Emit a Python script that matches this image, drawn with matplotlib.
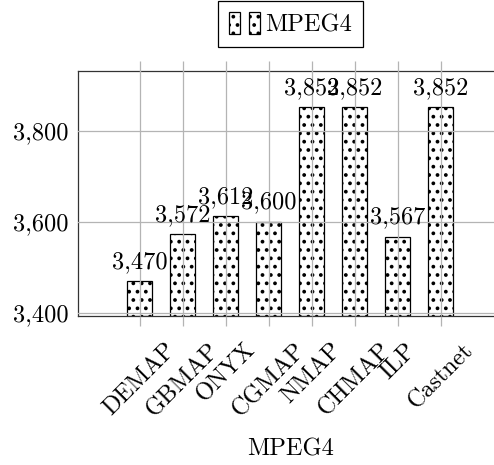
import matplotlib.pyplot as plt
from matplotlib.legend_handler import HandlerTuple
from matplotlib.patches import Rectangle
from matplotlib.ticker import FuncFormatter

methods = ['DEMAP', 'GBMAP', 'ONYX', 'CGMAP', 'NMAP', 'CHMAP', 'ILP', 'Castnet']
mpeg4 = [3470, 3572, 3612, 3600, 3852, 3852, 3567, 3852]
yticks = [3400, 3600, 3800]

plt.rcParams['font.family'] = 'serif'
plt.rcParams['font.serif'] = ['cmr10', 'DejaVu Serif']
plt.rcParams['axes.formatter.use_mathtext'] = True
plt.rcParams['hatch.linewidth'] = 1.5
plt.rcParams['hatch.color'] = 'black'

fs = 17.5
grid_col = '#b4b4b4'

fig = plt.figure(figsize=(4.94, 4.65), dpi=100)
ax = fig.add_axes([0.158, 0.3204, 0.86, 0.527])

ymin = 3392.7
x = list(range(len(methods)))
heights = [v - ymin for v in mpeg4]
bars = ax.bar(x, heights, bottom=ymin, width=0.58, color='white',
              edgecolor='black', linewidth=0.9, hatch='..', zorder=1)

for xi, v in zip(x, mpeg4):
    ax.annotate(f'{v:,}', (xi, v), xytext=(0, 9.4), textcoords='offset points',
                ha='center', va='baseline', fontsize=fs, zorder=4)

ax.set_xlim(-1.43, 8.44)
ax.set_ylim(ymin, 3931)
ax.set_yticks(yticks)
ax.yaxis.set_major_formatter(FuncFormatter(lambda v, p: f'{int(v):,}'))
ax.set_xticks(x)
ax.set_xticklabels(methods, rotation=45, ha='center', va='top')

ax.set_axisbelow(False)
ax.grid(True, color=grid_col, linewidth=0.9)
ax.tick_params(axis='x', top=True, bottom=True, direction='out', length=7.5,
               color=grid_col, width=0.9, labelsize=fs, pad=9)
ax.tick_params(axis='y', length=0, labelsize=fs, pad=7)

for s in ['left', 'top', 'bottom']:
    ax.spines[s].set_color('#333333')
    ax.spines[s].set_linewidth(0.9)
ax.spines['right'].set_visible(False)

ax.set_xlabel('MPEG4', fontsize=fs)
ax.xaxis.set_label_coords(0.5, -0.545)
ax.xaxis.label.set_va('center')

p1 = Rectangle((0, 0), 1, 1, facecolor='white', edgecolor='black', hatch='..', linewidth=0.9)
p2 = Rectangle((0, 0), 1, 1, facecolor='white', edgecolor='black', hatch='..', linewidth=0.9)
leg = ax.legend([(p1, p2)], ['MPEG4'], handler_map={tuple: HandlerTuple(ndivide=None, pad=0.4)},
                loc='lower center', bbox_to_anchor=(0.5, 1.098), borderaxespad=0,
                fontsize=fs, fancybox=False, framealpha=1, edgecolor='black',
                handlelength=1.3, handleheight=1.0, handletextpad=0.2, borderpad=0.45)
leg.get_frame().set_linewidth(0.9)

plt.savefig('out.png', dpi=100)
